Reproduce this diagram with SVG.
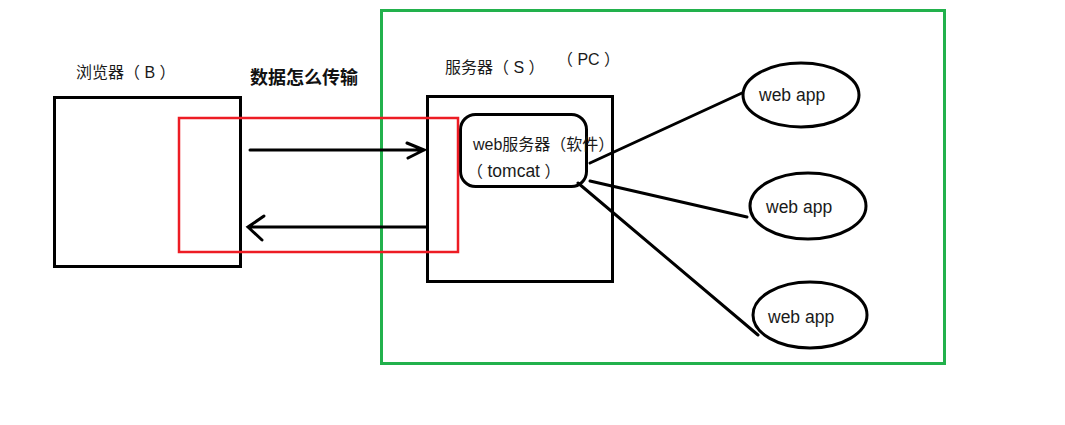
<svg xmlns="http://www.w3.org/2000/svg" width="1065" height="425" viewBox="0 0 1065 425">
<style>
.t{font-family:"Liberation Sans","Noto Sans CJK SC",sans-serif;font-size:16px;fill:#1a1a1a}
.w{font-size:17.5px}
.b{fill:none;stroke:#000;stroke-width:3}
.c{fill:none;stroke:#000;stroke-width:3;stroke-linecap:round}
</style>
<rect width="1065" height="425" fill="#fff"/>
<g id="pc"><rect x="381.5" y="10.5" width="563" height="353" fill="none" stroke="#22b14c" stroke-width="3"/><text class="t" x="557" y="65">（ PC ）</text></g>
<g id="browser"><rect class="b" x="54.5" y="97.5" width="186" height="169"/><text class="t" x="76" y="78">浏览器（ B ）</text></g>
<g id="server"><rect class="b" x="427.5" y="96.5" width="185" height="185"/><text class="t" x="445" y="73">服务器（ S ）</text></g>
<g id="webserver"><rect class="b" x="460.5" y="114.5" width="126" height="72" rx="15"/><text class="t" x="473" y="150">web服务器（软件）</text><text class="t" x="467" y="177">（ <tspan class="w">tomcat</tspan> ）</text></g>
<g id="transfer"><rect x="179" y="118" width="279" height="134" fill="none" stroke="#ed1c24" stroke-width="2.5"/><text x="250" y="84" style="font-family:'Liberation Sans','Noto Sans CJK SC',sans-serif;font-size:18px;font-weight:bold;fill:#111">数据怎么传输</text></g>
<g id="app1"><ellipse class="b" cx="801" cy="95" rx="58" ry="32"/><text class="t w" x="759" y="101">web app</text></g>
<g id="app2"><ellipse class="b" cx="808" cy="206" rx="58" ry="33"/><text class="t w" x="766" y="213">web app</text></g>
<g id="app3"><ellipse class="b" cx="810" cy="315" rx="57" ry="33"/><text class="t w" x="768" y="323">web app</text></g>
<g id="connectors">
<path class="c" d="M250 150H424M407 143L424 150L408 158"/>
<path class="c" d="M427 227H248M264 216L248 227L262 240"/>
<path class="c" d="M590 163L742 93"/>
<path class="c" d="M590 181L747 217"/>
<path class="c" d="M578 183L758 335"/>
</g>
</svg>
